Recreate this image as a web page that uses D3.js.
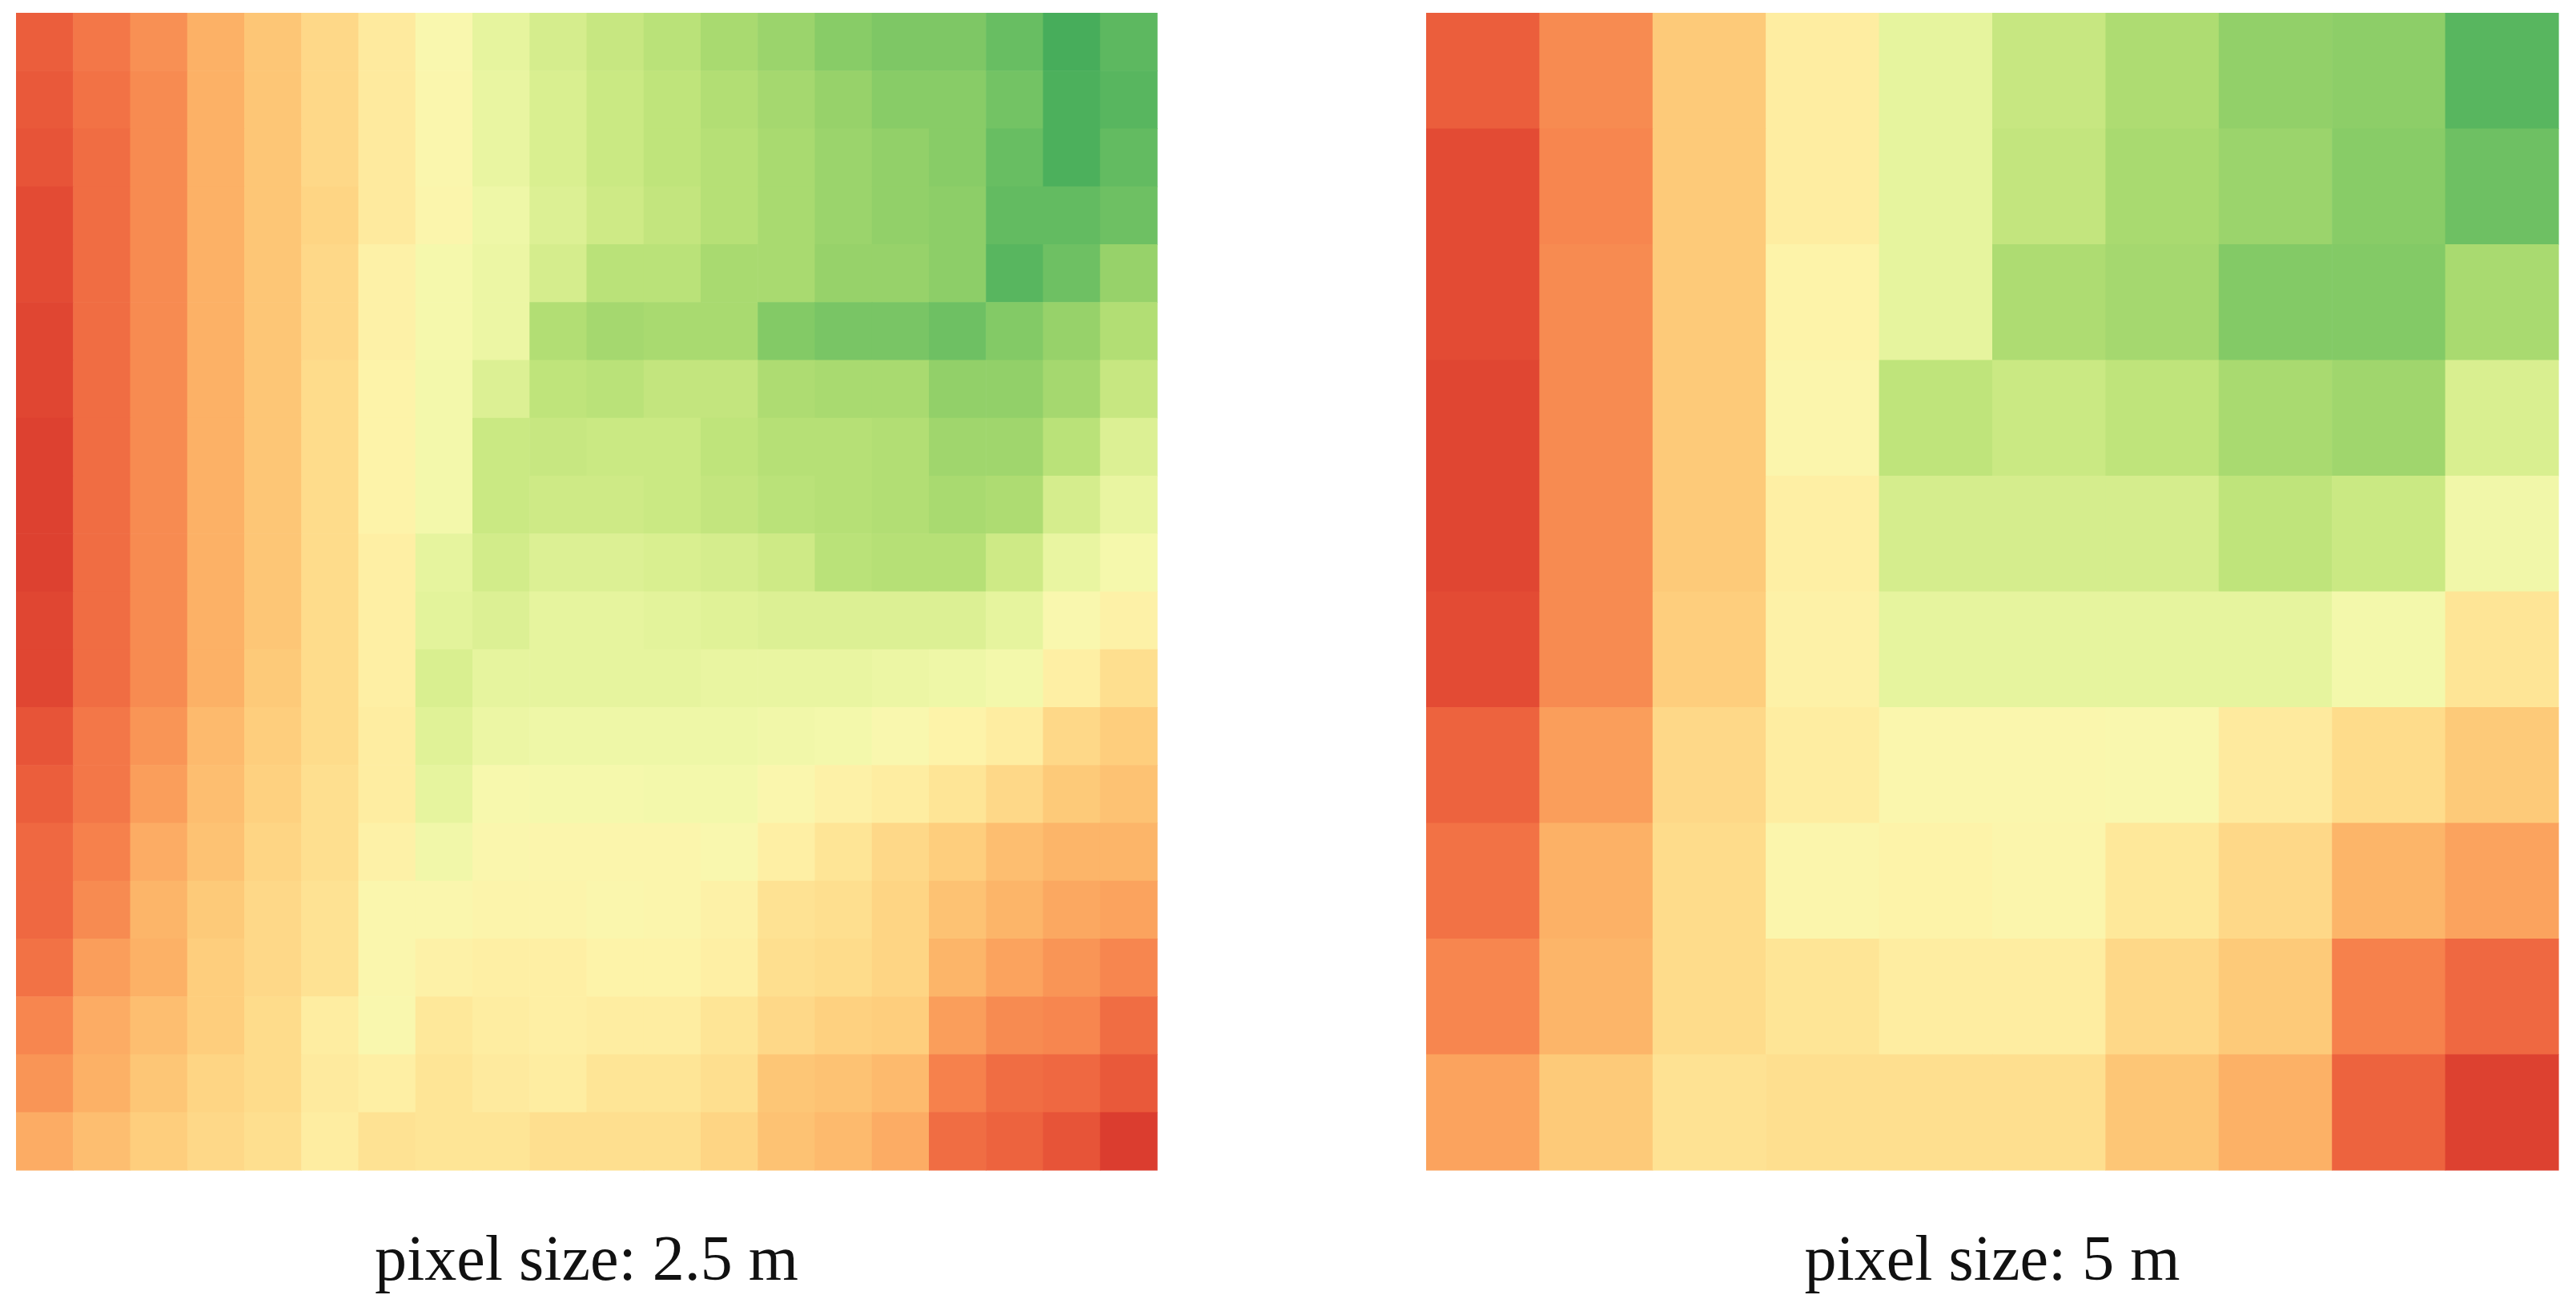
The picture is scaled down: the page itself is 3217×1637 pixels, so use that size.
<!DOCTYPE html>
<html>
<head>
<meta charset="utf-8">
<script src="https://cdn.jsdelivr.net/npm/d3@7"></script>
<style>
  body { margin: 0; background: #fff; }
  svg text { font-family: "Liberation Serif", "DejaVu Serif", serif; }
</style>
</head>
<body>
<svg id="chart" width="3217" height="1637"></svg>
<script>
// index values per cell (0 = red, 100 = green), row by row from the top
var fine = [
  [9,14,19,26,31,36,42,50,58,63,67,70,74,77,81,83,83,87,93,89],
  [8,13,18,26,31,36,42,49,57,62,66,69,72,75,78,81,81,85,92,90],
  [7,12,18,26,31,36,42,49,57,62,66,69,71,74,77,79,81,87,92,88],
  [5,12,18,26,31,35,42,48,55,61,65,68,71,74,77,79,80,88,88,86],
  [5,12,18,26,31,36,45,52,56,63,70,70,74,74,78,78,80,90,86,78],
  [4,12,18,26,31,36,45,52,56,72,75,74,74,82,84,84,86,82,78,72],
  [4,12,18,26,31,37,46,53,61,69,70,68,68,73,74,74,79,79,75,67],
  [3,12,18,26,31,37,46,53,66,67,66,66,69,71,71,72,76,76,70,61],
  [3,12,18,26,31,37,46,53,66,65,65,66,68,70,71,72,74,73,63,57],
  [3,12,18,26,31,37,44,58,64,61,61,62,63,65,70,71,71,65,57,52],
  [4,12,18,26,31,37,44,59,61,58,58,59,60,61,61,61,61,58,50,45],
  [4,12,18,26,32,37,44,62,58,58,58,58,57,57,57,56,55,53,44,38],
  [7,14,20,28,33,37,43,60,56,55,55,55,55,54,53,50,46,43,36,33],
  [9,14,22,29,34,38,43,58,51,52,52,53,53,49,45,43,40,36,32,30],
  [11,16,25,30,35,38,45,54,49,48,48,48,50,44,40,36,33,29,27,27],
  [11,18,27,32,36,39,49,49,47,47,49,48,45,39,38,35,30,27,24,23],
  [13,22,26,33,36,39,49,45,44,44,46,46,44,38,37,35,27,23,20,17],
  [17,25,29,33,37,43,50,41,43,44,43,43,40,36,34,33,22,18,17,12],
  [20,26,31,35,37,42,44,40,42,43,40,40,38,31,30,28,16,12,11,8],
  [25,29,33,36,38,43,39,40,40,38,38,38,35,30,28,25,12,10,7,2]
];
var coarse = [
  [9,18,32,43,58,67,73,79,80,90],
  [5,17,32,43,58,68,74,77,81,86],
  [5,18,32,46,58,73,75,82,82,74],
  [4,18,32,48,69,66,69,74,76,62],
  [4,18,32,44,63,63,63,69,66,54],
  [5,18,33,45,58,58,58,58,53,40],
  [10,22,36,43,49,49,50,42,37,32],
  [13,26,37,48,46,48,41,36,27,23],
  [17,27,37,40,43,43,36,32,16,11],
  [23,32,39,38,38,38,31,26,10,3]
];
var captions = ["pixel size: 2.5 m", "pixel size: 5 m"];

var svg = d3.select('#chart');
var color = d3.scaleSequential(d3.interpolateRdYlGn).domain([-13, 113]);

var panels = [
  {grid: fine, x0: 20, x1: 1445, caption: captions[0]},
  {grid: coarse, x0: 1781, x1: 3195, caption: captions[1]}
];
var y0 = 16, y1 = 1461;

panels.forEach(function(p) {
  var n = p.grid.length;
  var x = d3.scaleBand().domain(d3.range(n)).range([p.x0, p.x1]);
  var y = d3.scaleBand().domain(d3.range(n)).range([y0, y1]);
  var cells = [];
  p.grid.forEach(function(row, r) {
    row.forEach(function(v, c) { cells.push({r: r, c: c, v: v}); });
  });
  var g = svg.append('g');
  g.selectAll('rect').data(cells).enter().append('rect')
    .attr('x', function(d) { return x(d.c); })
    .attr('y', function(d) { return y(d.r); })
    .attr('width', x.bandwidth() + 0.6)
    .attr('height', y.bandwidth() + 0.6)
    .attr('fill', function(d) { return color(d.v); });
  g.append('text')
    .attr('x', (p.x0 + p.x1) / 2)
    .attr('y', 1598)
    .attr('text-anchor', 'middle')
    .attr('font-size', 80)
    .attr('fill', '#111')
    .text(p.caption);
});
</script>
</body>
</html>
